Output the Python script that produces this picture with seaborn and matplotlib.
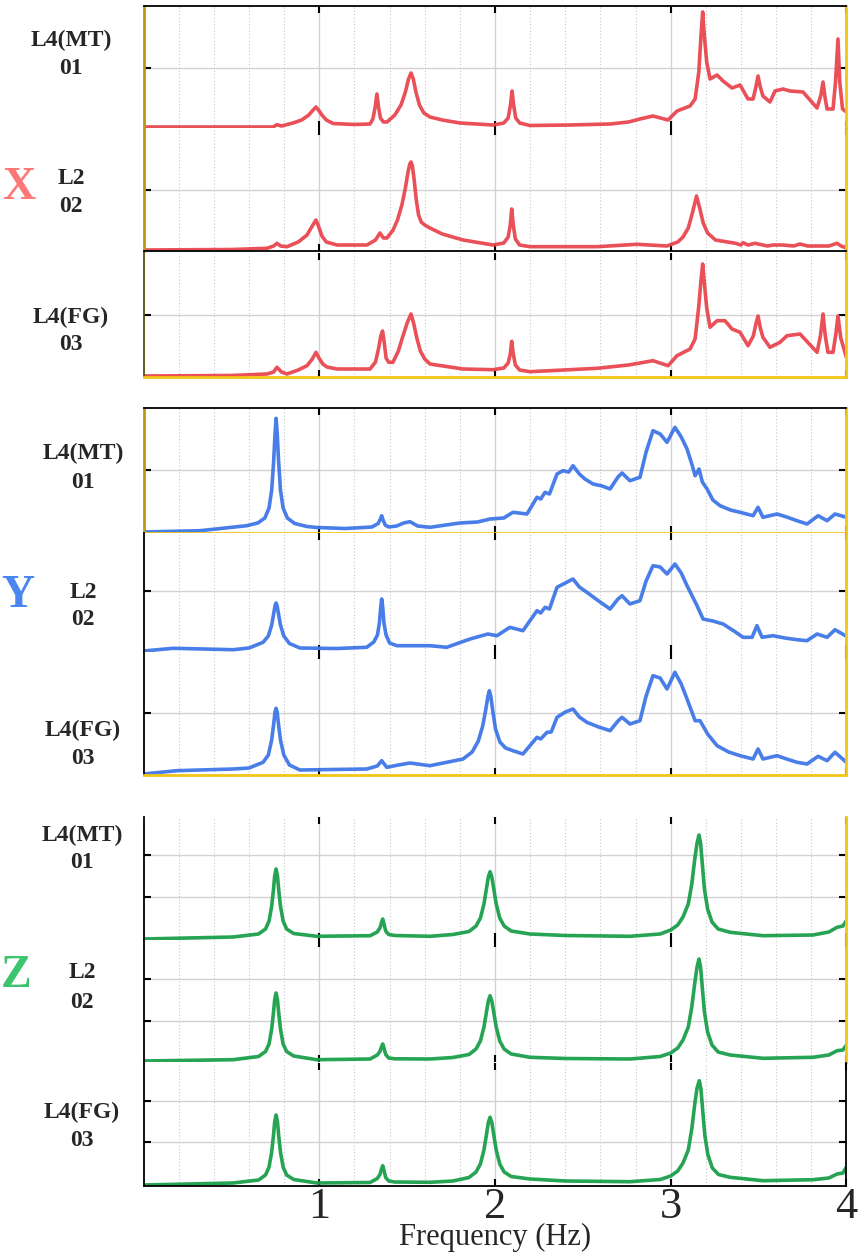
import numpy as np
import pandas as pd
import matplotlib
matplotlib.use("Agg")
import matplotlib.pyplot as plt
import seaborn as sns

# ---------------- data (frequency in Hz, amplitude in arbitrary units) ----------------
x_mt = [(0, 0), (0.736, 0), (0.759, 2.3), (0.785, 1), (0.850, 4), (0.900, 7), (0.940, 12), (0.965, 17),
        (0.981, 20), (0.995, 17), (1.015, 12), (1.040, 7), (1.078, 3.5), (1.200, 2.5), (1.289, 3),
        (1.305, 8), (1.318, 20), (1.328, 33), (1.337, 20), (1.348, 9), (1.365, 5), (1.385, 5), (1.430, 12),
        (1.465, 22), (1.490, 35), (1.508, 48), (1.522, 54), (1.535, 48), (1.550, 35), (1.570, 22),
        (1.595, 14), (1.630, 10), (1.700, 7), (1.801, 4), (1.989, 2), (2.050, 4), (2.075, 9), (2.088, 22),
        (2.097, 36), (2.106, 22), (2.118, 9), (2.140, 4), (2.199, 1.5), (2.427, 2), (2.655, 3), (2.760, 5),
        (2.825, 8), (2.899, 11), (2.985, 7), (3.036, 16), (3.110, 21), (3.139, 28), (3.160, 55), (3.172, 90),
        (3.182, 115), (3.192, 90), (3.205, 65), (3.224, 48), (3.264, 52), (3.298, 46), (3.349, 39),
        (3.395, 42), (3.440, 28), (3.469, 28), (3.485, 40), (3.497, 51), (3.510, 40), (3.525, 31),
        (3.565, 25), (3.594, 36), (3.639, 38), (3.679, 36), (3.753, 35), (3.833, 19), (3.855, 32),
        (3.867, 45), (3.878, 30), (3.890, 18), (3.924, 18), (3.938, 45), (3.952, 88), (3.962, 45),
        (3.978, 18), (4.0, 15)]
x_l2 = [(0, 0), (0.50, 0.5), (0.702, 1.7), (0.740, 4), (0.759, 6.7), (0.780, 4), (0.816, 3.3), (0.880, 8),
        (0.930, 15), (0.960, 24), (0.981, 30), (0.995, 24), (1.015, 14), (1.040, 8), (1.101, 5), (1.271, 5),
        (1.320, 10), (1.345, 17), (1.365, 12), (1.385, 12), (1.420, 20), (1.445, 30), (1.470, 45),
        (1.490, 62), (1.505, 78), (1.515, 86), (1.522, 88), (1.530, 84), (1.540, 70), (1.552, 50),
        (1.565, 35), (1.580, 28), (1.600, 25), (1.630, 22), (1.700, 16), (1.818, 10), (1.989, 5),
        (2.050, 7), (2.075, 13), (2.087, 25), (2.095, 41), (2.104, 25), (2.116, 11), (2.140, 5),
        (2.199, 3.3), (2.581, 3.3), (2.808, 5.7), (2.979, 4), (3.040, 8), (3.070, 13), (3.100, 22),
        (3.125, 38), (3.147, 54), (3.165, 42), (3.185, 27), (3.210, 17), (3.255, 10), (3.369, 6.7),
        (3.400, 5), (3.412, 7.3), (3.440, 5), (3.480, 6.7), (3.550, 4), (3.582, 5), (3.639, 5), (3.700, 4),
        (3.736, 6), (3.780, 4), (3.900, 4), (3.947, 6.7), (3.970, 4), (4.0, 2)]
x_fg = [(0, 0), (0.50, 0.5), (0.702, 2), (0.740, 4), (0.759, 8.7), (0.785, 4), (0.816, 2), (0.880, 6),
        (0.930, 10.3), (0.960, 17), (0.981, 23.7), (0.998, 18), (1.020, 12), (1.044, 9), (1.101, 7),
        (1.289, 7), (1.320, 14), (1.338, 28), (1.350, 40), (1.360, 45), (1.370, 33), (1.380, 18),
        (1.395, 13.7), (1.419, 13.7), (1.450, 25), (1.476, 40), (1.500, 53), (1.522, 62), (1.538, 52),
        (1.555, 38), (1.575, 25), (1.600, 17), (1.630, 12), (1.818, 7), (1.989, 6.3), (2.050, 8),
        (2.075, 13), (2.087, 22), (2.095, 34.7), (2.104, 22), (2.116, 11), (2.140, 6), (2.199, 4.3),
        (2.581, 7.7), (2.760, 11), (2.899, 15.3), (2.985, 10.3), (3.036, 20.3), (3.110, 27), (3.139, 37),
        (3.160, 70), (3.172, 95), (3.182, 112), (3.192, 92), (3.205, 68), (3.224, 48.7), (3.264, 55.3),
        (3.309, 55.3), (3.349, 47), (3.395, 43.7), (3.440, 30.3), (3.470, 40), (3.485, 52), (3.497, 60),
        (3.510, 48), (3.525, 38.7), (3.565, 28.7), (3.622, 33.7), (3.662, 40.3), (3.736, 42), (3.833, 23.7),
        (3.852, 40), (3.867, 62), (3.880, 40), (3.895, 23.7), (3.924, 23.7), (3.940, 42), (3.952, 60),
        (3.968, 38), (4.0, 18.7)]

y_mt = [(0, 0), (0.321, 1.3), (0.587, 6.3), (0.650, 9), (0.690, 14), (0.714, 24), (0.729, 42), (0.740, 70),
        (0.748, 98), (0.754, 113.7), (0.760, 100), (0.768, 72), (0.779, 42), (0.794, 24), (0.818, 14),
        (0.860, 8.5), (0.930, 5.5), (0.985, 4.5), (1.150, 3.5), (1.270, 4.7), (1.300, 5), (1.335, 8.5),
        (1.348, 13), (1.355, 16.3), (1.363, 12), (1.375, 7), (1.395, 5), (1.440, 6), (1.480, 9),
        (1.516, 10.3), (1.560, 6), (1.630, 4.7), (1.800, 9), (1.900, 10), (1.972, 13), (2.050, 14),
        (2.102, 19.7), (2.182, 18), (2.239, 34.7), (2.260, 33), (2.285, 39.7), (2.310, 38), (2.353, 58),
        (2.387, 61.3), (2.420, 60), (2.444, 66.3), (2.480, 58), (2.512, 53), (2.558, 48), (2.610, 46),
        (2.655, 43), (2.700, 55), (2.723, 59), (2.768, 51.3), (2.825, 54.7), (2.860, 80), (2.899, 101.3),
        (2.940, 98), (2.979, 89.7), (3.024, 104.7), (3.060, 95), (3.093, 83), (3.120, 68), (3.139, 56.3),
        (3.161, 63), (3.180, 50), (3.207, 43), (3.240, 32), (3.281, 26.3), (3.340, 22), (3.395, 19.7),
        (3.469, 16.3), (3.497, 24.7), (3.525, 14.7), (3.605, 18), (3.660, 15), (3.719, 11.3), (3.776, 8),
        (3.839, 16.3), (3.890, 11.3), (3.935, 18), (4.0, 14.7)]
y_l2 = [(0, 0), (0.167, 2.7), (0.509, 1.3), (0.600, 3), (0.680, 8.7), (0.710, 15), (0.729, 26), (0.741, 38),
        (0.748, 45), (0.754, 48), (0.760, 45), (0.767, 38), (0.779, 26), (0.798, 15), (0.830, 7.5),
        (0.890, 3), (1.100, 2.5), (1.270, 3.7), (1.310, 9), (1.331, 16), (1.342, 28), (1.350, 44),
        (1.355, 52), (1.361, 44), (1.368, 28), (1.380, 16), (1.400, 8), (1.441, 5.3), (1.630, 5.3),
        (1.725, 3.7), (1.858, 12), (1.960, 17), (2.011, 15.3), (2.085, 23.7), (2.159, 20.3), (2.239, 40.3),
        (2.260, 38), (2.285, 43.7), (2.310, 42), (2.353, 63.7), (2.400, 68), (2.444, 72), (2.480, 64),
        (2.523, 58.7), (2.590, 50), (2.655, 42), (2.700, 52), (2.723, 55.3), (2.768, 47), (2.825, 50.3),
        (2.860, 70), (2.899, 85.3), (2.940, 84), (2.979, 77), (3.024, 87), (3.060, 78), (3.093, 65.3),
        (3.150, 45.3), (3.184, 32), (3.240, 30), (3.298, 27), (3.360, 20), (3.412, 13.7), (3.463, 13.7),
        (3.491, 25.3), (3.520, 13.7), (3.582, 15.3), (3.650, 13), (3.719, 11.3), (3.776, 10.3), (3.833, 17),
        (3.890, 13.7), (3.935, 21.3), (4.0, 14.7)]
y_fg = [(0, 0), (0.188, 3.3), (0.509, 5), (0.600, 6), (0.680, 11.7), (0.710, 19), (0.729, 34), (0.741, 51),
        (0.748, 62), (0.754, 65.7), (0.760, 62), (0.767, 51), (0.779, 34), (0.798, 19), (0.830, 9),
        (0.890, 4), (1.270, 5), (1.330, 8), (1.355, 13.3), (1.384, 6.7), (1.450, 9), (1.516, 11),
        (1.630, 8.3), (1.818, 15), (1.870, 22), (1.905, 33), (1.930, 48), (1.948, 65), (1.960, 78),
        (1.968, 83.3), (1.976, 78), (1.988, 62), (2.003, 45), (2.028, 32), (2.060, 26), (2.102, 23.3),
        (2.159, 20), (2.239, 36.7), (2.260, 35), (2.296, 41.7), (2.320, 42), (2.353, 56.7), (2.400, 62),
        (2.444, 65), (2.480, 57), (2.523, 51.7), (2.590, 47), (2.655, 43.3), (2.700, 53), (2.723, 56.7),
        (2.768, 50), (2.825, 53.3), (2.860, 78), (2.899, 98.3), (2.940, 96), (2.979, 85), (3.024, 101.7),
        (3.060, 90), (3.093, 75), (3.139, 53.3), (3.167, 53.3), (3.210, 40), (3.264, 28.3), (3.330, 22),
        (3.395, 18.3), (3.469, 15), (3.497, 25), (3.525, 15), (3.605, 18.3), (3.660, 15), (3.719, 11.7),
        (3.776, 10), (3.839, 17.7), (3.890, 13.3), (3.935, 21.7), (4.0, 11.7)]

z_mt = [(0, 0), (0.509, 2), (0.654, 5), (0.694, 10), (0.714, 18), (0.729, 33), (0.739, 49), (0.746, 63),
        (0.754, 70), (0.762, 63), (0.769, 49), (0.779, 33), (0.794, 18), (0.814, 10), (0.854, 5.5),
        (0.985, 2.7), (1.289, 3.3), (1.330, 7), (1.345, 11), (1.355, 17), (1.361, 20), (1.368, 15),
        (1.378, 8), (1.395, 4.5), (1.430, 3.5), (1.630, 2.7), (1.760, 4.5), (1.852, 7.5), (1.892, 13),
        (1.917, 21), (1.937, 35), (1.952, 51), (1.962, 62), (1.972, 67.3), (1.982, 62), (1.992, 51),
        (2.007, 35), (2.027, 21), (2.052, 13), (2.092, 8), (2.199, 5), (2.400, 3.5), (2.768, 2.7),
        (2.940, 5), (3.000, 9), (3.040, 14), (3.070, 22), (3.100, 35), (3.120, 55), (3.137, 80), (3.150, 96),
        (3.161, 104), (3.170, 96), (3.180, 75), (3.192, 50), (3.210, 30), (3.235, 17), (3.270, 10),
        (3.338, 6.7), (3.525, 3.3), (3.810, 4), (3.900, 7), (3.947, 11.7), (3.980, 13), (4.0, 18.3)]
z_l2 = [(0, 0), (0.509, 1.3), (0.654, 4.5), (0.694, 9.5), (0.714, 17), (0.729, 32), (0.739, 48), (0.746, 61),
        (0.754, 68), (0.762, 61), (0.769, 48), (0.779, 32), (0.794, 17), (0.814, 9.5), (0.854, 5),
        (0.985, 1.3), (1.289, 2), (1.330, 6), (1.345, 9.5), (1.355, 14.5), (1.361, 17), (1.368, 13),
        (1.378, 6.5), (1.395, 3), (1.430, 2.2), (1.630, 2), (1.760, 3.5), (1.852, 6.5), (1.892, 12),
        (1.917, 20), (1.937, 34), (1.952, 49.5), (1.962, 60), (1.972, 65.3), (1.982, 60), (1.992, 49.5),
        (2.007, 34), (2.027, 20), (2.052, 12), (2.092, 7), (2.199, 3.7), (2.400, 2.5), (2.768, 2),
        (2.940, 4.5), (3.000, 8), (3.040, 13), (3.070, 21), (3.100, 34), (3.120, 54), (3.137, 78),
        (3.150, 94), (3.161, 102), (3.170, 94), (3.180, 73), (3.192, 49), (3.210, 29), (3.235, 16),
        (3.270, 9), (3.338, 6), (3.525, 2.7), (3.810, 3.7), (3.900, 6), (3.947, 10.3), (3.980, 11),
        (4.0, 16)]
z_fg = [(0, 0), (0.509, 2), (0.654, 5), (0.694, 10), (0.714, 18), (0.729, 33), (0.739, 49), (0.746, 63),
        (0.754, 70), (0.762, 63), (0.769, 49), (0.779, 33), (0.794, 18), (0.814, 10), (0.854, 5.5),
        (0.985, 2), (1.289, 2.5), (1.330, 6.5), (1.345, 10.5), (1.355, 16.5), (1.361, 19.3), (1.368, 14.5),
        (1.378, 7.5), (1.395, 4), (1.430, 3), (1.630, 2.7), (1.760, 4), (1.852, 7.5), (1.892, 13),
        (1.917, 21), (1.937, 35), (1.952, 51), (1.962, 62.5), (1.972, 67.7), (1.982, 62.5), (1.992, 51),
        (2.007, 35), (2.027, 21), (2.052, 13), (2.092, 8.5), (2.199, 6), (2.400, 4), (2.768, 3.3),
        (2.940, 5.5), (3.000, 9), (3.040, 14), (3.070, 22), (3.100, 35), (3.120, 56), (3.137, 81),
        (3.150, 97), (3.163, 104.3), (3.172, 96), (3.182, 75), (3.194, 50), (3.212, 30), (3.237, 17),
        (3.272, 10.5), (3.338, 7.7), (3.525, 4.3), (3.810, 5.3), (3.900, 7), (3.947, 11), (3.980, 12),
        (4.0, 17.7)]

station_labels = ["L4(MT)\n01", "L2\n02", "L4(FG)\n03"]
components = ["X", "Y", "Z"]
x_ticks = [1, 2, 3, 4]
x_label = "Frequency (Hz)"

curves = {"X": [x_mt, x_l2, x_fg], "Y": [y_mt, y_l2, y_fg], "Z": [z_mt, z_l2, z_fg]}

# ---------------- style ----------------
sns.set_theme(style="white")
plt.rcParams['font.family'] = ['Liberation Serif', 'DejaVu Serif']

W, H = 859, 1253
fig = plt.figure(figsize=(W / 100, H / 100), dpi=100)

line_colors = {"X": "#e8464f", "Y": "#3f76e6", "Z": "#1a9f4b"}
letter_colors = {"X": "#ff7878", "Y": "#4a86f0", "Z": "#3cc46e"}

# panel pixel extents (top, bottom)
panel_px = {"X": [(6, 128), (128, 251), (253, 377)],
            "Y": [(408, 533), (533, 652), (652, 775)],
            "Z": [(817, 940), (940, 1062), (1063, 1186)]}
ygrid = {"X": [[59], [60], [61]],
         "Y": [[62], [60], [61]],
         "Z": [[42, 84], [40, 82], [43, 84]]}
label_px = {"X": [(71, 40, 69), (71, 178, 207), (71, 317, 345)],
            "Y": [(83, 453, 483), (83, 592, 620), (83, 730, 758)],
            "Z": [(82, 835, 863), (82, 973, 1002), (82, 1112, 1140)]}
letter_px = {"X": (2, 188), "Y": (1, 596), "Z": (1, 976)}

GOLD = "#f2c417"
DGOLD = "#b99a10"
# spine colours: (left, right, top, bottom); None -> hidden
spine_cols = {"X": [(DGOLD, GOLD, "black", None), (DGOLD, GOLD, None, "black"),
                    ("#555010", GOLD, None, GOLD)],
              "Y": [(DGOLD, GOLD, "black", GOLD), ("black", GOLD, None, None),
                    ("black", GOLD, None, GOLD)],
              "Z": [("black", GOLD, None, None), ("black", GOLD, None, None),
                    ("black", "black", None, "black")]}

x0, x1 = 143.6, 846.4
for comp in components:
    for i in range(3):
        top, bot = panel_px[comp][i]
        hpx = bot - top
        ax = fig.add_axes([x0 / W, 1 - bot / H, (x1 - x0) / W, hpx / H])
        ax.set_facecolor("white")
        data = curves[comp][i]
        df = pd.DataFrame(data, columns=["freq", "amp"])
        sns.lineplot(data=df, x="freq", y="amp", ax=ax, color=line_colors[comp],
                     linewidth=2.6, estimator=None, sort=False, alpha=0.95)
        ax.set_xlim(0, 4)
        ax.set_ylim(-1, hpx - 1)
        ax.set_xticks(x_ticks)
        ax.set_xticks(np.arange(0.2, 4.0, 0.2), minor=True)
        ax.set_yticks(ygrid[comp][i])
        ax.grid(which="major", axis="both", color="#d2d2d2", lw=1.0, ls="-")
        ax.grid(which="minor", axis="x", color="#c8c8c8", lw=0.8, ls=(0, (1, 2)))
        ax.set_axisbelow(True)
        ax.tick_params(which="major", direction="in", length=5, width=1.5, color="black",
                       top=True, bottom=True, left=True, right=True,
                       labelleft=False, labelbottom=(comp == "Z" and i == 2))
        ax.tick_params(which="minor", length=0)
        ax.set_xlabel("")
        ax.set_ylabel("")
        for side, col in zip(["left", "right", "top", "bottom"], spine_cols[comp][i]):
            if col is None:
                ax.spines[side].set_visible(False)
            else:
                ax.spines[side].set_visible(True)
                ax.spines[side].set_color(col)
                ax.spines[side].set_linewidth(2 if col in (GOLD, DGOLD) else 1.3)
        if comp == "Z" and i == 2:
            ax.set_xticklabels([str(t) for t in x_ticks], fontsize=32)
            ax.tick_params(axis="x", pad=0.5)
        lx, ly1, ly2 = label_px[comp][i]
        l1, l2 = station_labels[i].split("\n")
        fig.text(lx / W, 1 - ly1 / H, l1, ha="center", va="center", fontsize=17, fontweight="bold")
        fig.text(lx / W, 1 - ly2 / H, l2, ha="center", va="center", fontsize=17, fontweight="bold")
    bx, by = letter_px[comp]
    fig.text(bx / W, 1 - by / H, comp, ha="left", va="center", fontsize=33, fontweight="bold",
             color=letter_colors[comp])

fig.text(495 / W, 0.5 / H, x_label, ha="center", va="bottom", fontsize=22)

fig.savefig("out.png", dpi=100)
